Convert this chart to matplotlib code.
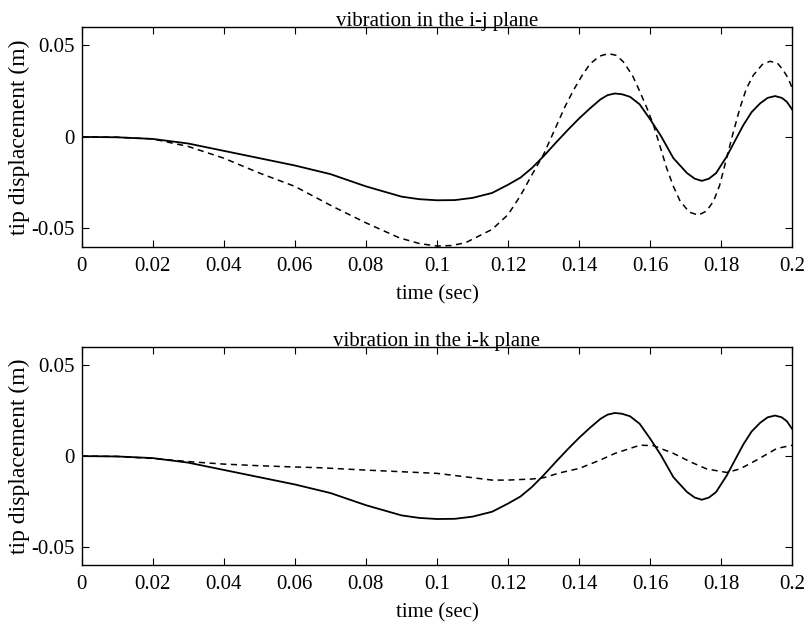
import matplotlib
matplotlib.use("Agg")
import matplotlib.pyplot as plt

plt.rcParams['font.family'] = ['Liberation Serif', 'DejaVu Serif']
plt.rcParams['font.size'] = 15

# solid curve (same in both planes)
t_solid = [0, 0.01, 0.02, 0.03, 0.04, 0.05, 0.06, 0.07, 0.08, 0.09, 0.095, 0.1,
           0.105, 0.11, 0.1155, 0.12, 0.1235, 0.1267, 0.13, 0.1337, 0.137, 0.14,
           0.143, 0.146, 0.148, 0.15, 0.152, 0.1543, 0.157, 0.16, 0.163,
           0.1665, 0.1703, 0.1725, 0.1745, 0.1765, 0.1785, 0.1815, 0.184,
           0.1862, 0.1885, 0.1909, 0.193, 0.1951, 0.197, 0.1984, 0.2]
y_solid = [0, -0.0002, -0.0011, -0.0036, -0.0076, -0.0116, -0.0156, -0.0203, -0.027, -0.0326, -0.034, -0.0346,
           -0.0345, -0.0333, -0.0306, -0.0261, -0.0222, -0.017, -0.0105, -0.0026, 0.0042, 0.0101,
           0.0155, 0.0205, 0.0228, 0.0237, 0.0233, 0.0219, 0.0178, 0.0095, 0.0005,
           -0.0116, -0.0197, -0.0228, -0.024, -0.0228, -0.0198, -0.0107, -0.0015,
           0.0065, 0.0135, 0.0183, 0.0213, 0.0223, 0.0213, 0.0192, 0.0147]

# dashed curve, i-j plane
t_ij = [0, 0.01, 0.02, 0.03, 0.04, 0.05, 0.06, 0.0706, 0.08, 0.0894, 0.095, 0.1,
        0.104, 0.108, 0.1155, 0.12, 0.1235, 0.1267, 0.13, 0.1337, 0.136, 0.1384, 0.1408, 0.1431,
        0.1458, 0.1482, 0.1505, 0.1524, 0.155, 0.1571, 0.159, 0.1609, 0.1628, 0.1646, 0.1665,
        0.1684, 0.171, 0.1735, 0.1758, 0.1778, 0.1795, 0.181, 0.183, 0.1852, 0.187, 0.189,
        0.1915, 0.1937, 0.1958, 0.1974, 0.1988, 0.2]
y_ij = [0, -0.0002, -0.0011, -0.0052, -0.0116, -0.0197, -0.027, -0.0379, -0.0469, -0.0551, -0.0582, -0.0596,
        -0.0593, -0.0578, -0.0505, -0.0424, -0.032, -0.0207, -0.0095, 0.0065, 0.0165, 0.0255, 0.0335, 0.04,
        0.0441, 0.0455, 0.0445, 0.041, 0.0335, 0.0246, 0.016, 0.0065, -0.0055, -0.017, -0.027,
        -0.0351, -0.0411, -0.0427, -0.0405, -0.0351, -0.0265, -0.0152, 0.0, 0.0156, 0.0262, 0.0337,
        0.0395, 0.0413, 0.0402, 0.0364, 0.032, 0.0262]

# dashed curve, i-k plane
t_ik = [0, 0.01, 0.02, 0.0305, 0.04, 0.05, 0.06, 0.067, 0.08, 0.1, 0.108, 0.1155,
        0.12, 0.1267, 0.13, 0.1346, 0.14, 0.1459, 0.1501, 0.1571, 0.1609, 0.1665,
        0.1712, 0.1759, 0.1815, 0.1852, 0.1899, 0.1956, 0.2]
y_ik = [0, -0.0002, -0.0013, -0.0031, -0.0044, -0.0053, -0.006, -0.0064, -0.0077, -0.0095, -0.0114, -0.0132,
        -0.0132, -0.0126, -0.0119, -0.0092, -0.0068, -0.0022, 0.0015, 0.006, 0.0057, 0.0015,
        -0.0031, -0.0071, -0.009, -0.0071, -0.0022, 0.0042, 0.006]

titles = ['vibration in the i-j plane', 'vibration in the i-k plane']
xticks = [0, 0.02, 0.04, 0.06, 0.08, 0.1, 0.12, 0.14, 0.16, 0.18, 0.2]
xticklabels = ['0', '0.02', '0.04', '0.06', '0.08', '0.1', '0.12', '0.14', '0.16', '0.18', '0.2']
yticks = [-0.05, 0, 0.05]
yticklabels = ['-0.05', '0', '0.05']

fig = plt.figure(figsize=(8.07, 6.28), dpi=100)
ax1 = fig.add_axes([0.101, 0.607, 0.881, 0.350])
ax2 = fig.add_axes([0.101, 0.100, 0.881, 0.3475])

for ax, title, (td, yd) in zip([ax1, ax2], titles, [(t_ij, y_ij), (t_ik, y_ik)]):
    ax.plot(t_solid, y_solid, color='black', lw=1.3, solid_joinstyle='round')
    ax.plot(td, yd, color='black', lw=1.1, linestyle=(0, (4, 3)))
    ax.set_xlim(0, 0.2)
    ax.set_ylim(-0.06, 0.06)
    ax.set_xticks(xticks)
    ax.set_xticklabels(xticklabels)
    ax.set_yticks(yticks)
    ax.set_yticklabels(yticklabels)
    ax.tick_params(direction='in', top=True, right=True, length=5, width=0.8)
    ax.tick_params(axis='x', pad=7)
    ax.tick_params(axis='y', pad=5)
    for s in ax.spines.values():
        s.set_linewidth(1.0)
    ax.set_title(title, fontsize=15, pad=1)
    ax.set_xlabel('time (sec)', fontsize=15, labelpad=7)
    ax.set_ylabel('tip displacement (m)', fontsize=17, labelpad=1)

fig.savefig('out.png', dpi=100)
